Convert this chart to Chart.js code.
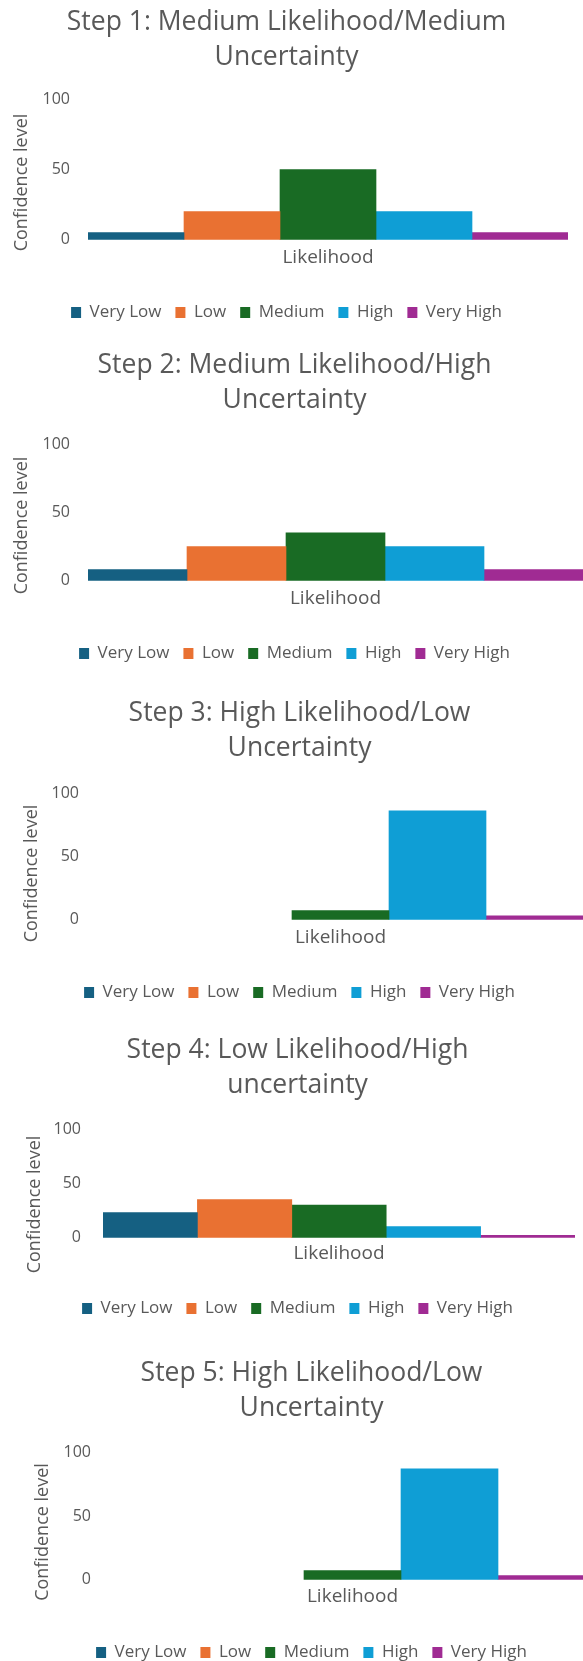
<!DOCTYPE html>
<html>
<head>
<meta charset="utf-8">
<title>Confidence level by likelihood</title>
<script src="https://cdn.jsdelivr.net/npm/chart.js@4.4.1/dist/chart.umd.min.js"></script>
<style>
  html, body { margin: 0; padding: 0; background: #ffffff; overflow: hidden; width: 583px; height: 1661px; position: relative; }
  .panel { position: absolute; }
</style>
</head>
<body>
<script>
// ---- data ----
const categories = ['Likelihood'];
const seriesNames = ['Very Low', 'Low', 'Medium', 'High', 'Very High'];
const yTickValues = [0, 50, 100];
const yAxisTitle = 'Confidence level';

const step1Values = [5, 20, 50, 20, 5];
const step2Values = [8, 25, 35, 25, 8];
const step3Values = [0, 0, 7, 90, 3];
const step4Values = [23, 35, 30, 10, 2];
const step5Values = [0, 0, 7, 90, 3];

const step1Title = ['Step 1: Medium Likelihood/Medium', 'Uncertainty'];
const step2Title = ['Step 2: Medium Likelihood/High', 'Uncertainty'];
const step3Title = ['Step 3: High Likelihood/Low', 'Uncertainty'];
const step4Title = ['Step 4: Low Likelihood/High', 'uncertainty'];
const step5Title = ['Step 5: High Likelihood/Low', 'Uncertainty'];

// ---- styling ----
const palette = ['#156082', '#E97132', '#196B24', '#0F9ED5', '#A02B93'];
const ink = '#595959';
const titleSize = 26.5, titleLine = 35;
const categorySize = 19, categoryLine = categorySize * 1.2;
const axisTitleSize = 18, axisTitleLine = axisTitleSize * 1.2;
const tickSize = 16;
const legendSize = 17, legendPad = 14;

Chart.defaults.font.family = "'Open Sans', 'Noto Sans', sans-serif";
Chart.defaults.color = ink;

// The value-axis title is centred on the whole plot band (down to the category
// label), so it sits a little below the middle of the 0-100 range. The axis box
// is only moved while the frame is painted; bar geometry is already fixed then.
const axisTitleDrop = {
  id: 'axisTitleDrop',
  beforeDraw(chart, args, opts) {
    const y = chart.scales.y;
    y.top += opts.shift;
    y.bottom += opts.shift;
  },
  afterDraw(chart, args, opts) {
    const y = chart.scales.y;
    y.top -= opts.shift;
    y.bottom -= opts.shift;
  }
};

// panel geometry (page px): canvas left, plot right edge, centre of first title line,
// y of value 100, y of value 0, category label offset below zero, legend row offset
// below zero, centre x of the y-axis title, its downward shift, gap between tick
// labels and plot, plot left
const panels = [
  { values: step1Values, title: step1Title, left: 5,  right: 568, titleY: 22,   top: 99,   zero: 239,  label: 18, legend: 73, yTitleX: 22, yTitleShift: 13, gap: 18, plotLeft: 88 },
  { values: step2Values, title: step2Title, left: 6,  right: 583, titleY: 365,  top: 444,  zero: 580,  label: 18, legend: 73, yTitleX: 22, yTitleShift: 13, gap: 18, plotLeft: 88 },
  { values: step3Values, title: step3Title, left: 16, right: 583, titleY: 713,  top: 793,  zero: 919,  label: 18, legend: 73, yTitleX: 32, yTitleShift: 17, gap: 19, plotLeft: 98 },
  { values: step4Values, title: step4Title, left: 20, right: 575, titleY: 1050, top: 1129, zero: 1237, label: 16, legend: 71, yTitleX: 35, yTitleShift: 21, gap: 22, plotLeft: 103 },
  { values: step5Values, title: step5Title, left: 28, right: 595, titleY: 1373, top: 1452, zero: 1579, label: 17, legend: 73, yTitleX: 43, yTitleShift: 16, gap: 19, plotLeft: 110 }
];

panels.forEach(p => {
  const titleTop = p.titleY - titleLine / 2;
  const titleGap = p.top - titleTop - 2 * titleLine;
  const legendRow = legendPad + legendSize / 2;
  const legendHeight = legendSize + legendPad + 10;
  const axisHeight = p.legend - legendRow;
  const height = 2 * titleLine + titleGap + (p.zero - p.top) + axisHeight + legendHeight;

  const box = document.createElement('div');
  box.className = 'panel';
  box.style.left = p.left + 'px';
  box.style.top = titleTop + 'px';
  box.style.width = (p.right - p.left) + 'px';
  box.style.height = height + 'px';
  const canvas = document.createElement('canvas');
  box.appendChild(canvas);
  document.body.appendChild(box);

  new Chart(canvas, {
    type: 'bar',
    plugins: [axisTitleDrop],
    data: {
      labels: categories,
      datasets: seriesNames.map((name, k) => ({
        label: name,
        data: [p.values[k]],
        // an empty series leaves no sliver on the baseline
        backgroundColor: ctx => (ctx.raw ? palette[k] : 'rgba(0,0,0,0)'),
        borderWidth: 0,
        categoryPercentage: 1,
        barPercentage: 1
      }))
    },
    options: {
      responsive: true,
      maintainAspectRatio: false,
      animation: false,
      devicePixelRatio: 1,
      layout: { padding: 0 },
      plugins: {
        axisTitleDrop: { shift: p.yTitleShift },
        title: {
          display: true,
          text: p.title,
          color: ink,
          font: { size: titleSize, lineHeight: titleLine + 'px', weight: 'normal' },
          padding: { top: 0, bottom: titleGap }
        },
        legend: {
          position: 'bottom',
          labels: {
            boxWidth: 10,
            boxHeight: 11,
            padding: legendPad,
            color: ink,
            font: { size: legendSize },
            generateLabels: chart => chart.data.datasets.map((ds, k) => ({
              text: ds.label,
              fillStyle: palette[k],
              strokeStyle: palette[k],
              fontColor: ink,
              lineWidth: 0,
              hidden: false,
              datasetIndex: k
            }))
          }
        },
        tooltip: { enabled: false }
      },
      scales: {
        x: {
          grid: { display: false, drawTicks: false },
          border: { display: false },
          ticks: { color: ink, font: { size: categorySize }, padding: p.label - categoryLine / 2 },
          afterFit: s => { s.height = axisHeight; }
        },
        y: {
          min: 0,
          max: 100,
          afterBuildTicks: s => { s.ticks = yTickValues.map(v => ({ value: v })); },
          grid: { display: false, drawTicks: false },
          border: { display: false },
          ticks: { color: ink, font: { size: tickSize }, padding: p.gap },
          title: {
            display: true,
            text: yAxisTitle,
            color: ink,
            font: { size: axisTitleSize },
            padding: { top: p.yTitleX - p.left - axisTitleLine / 2, bottom: 0 }
          },
          afterFit: s => { s.width = p.plotLeft - p.left; }
        }
      }
    }
  });
});
</script>
</body>
</html>
